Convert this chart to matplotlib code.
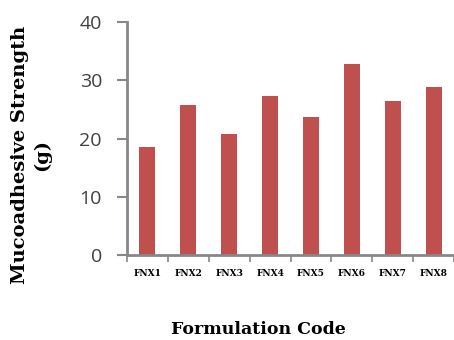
import matplotlib
matplotlib.use("Agg")
import matplotlib.pyplot as plt
import numpy as np

categories = ["FNX1", "FNX2", "FNX3", "FNX4", "FNX5", "FNX6", "FNX7", "FNX8"]
values = [18.5, 25.7, 20.8, 27.3, 23.7, 32.8, 26.4, 28.8]
yticks = [0, 10, 20, 30, 40]

fig = plt.figure(figsize=(4.54, 3.40), dpi=100)
ax = fig.add_axes([127/454, 85/340, 327/454, 233/340])

x = np.arange(len(categories))
ax.bar(x, values, width=0.39, color="#C0504D", zorder=2)

ax.set_xlim(-0.5, len(categories) - 0.5)
ax.set_ylim(0, 40)

gray = "#878787"
for s in ["top", "right"]:
    ax.spines[s].set_visible(False)
for s in ["left", "bottom"]:
    ax.spines[s].set_color(gray)
    ax.spines[s].set_linewidth(2)

ax.set_yticks(yticks)
ax.set_yticklabels([str(v) for v in yticks], fontsize=14, family="Open Sans", color="#404040")
ax.tick_params(axis="y", length=7, width=1.5, color=gray, pad=11)

ax.set_xticks(x)
ax.set_xticklabels(categories, fontsize=6.5, family="DejaVu Serif", fontweight="bold")
ax.tick_params(axis="x", which="major", length=0, pad=10)
ax.set_xticks(np.arange(-0.5, len(categories)), minor=True)
ax.tick_params(axis="x", which="minor", length=5, width=1.2, color=gray)

fig.text(0.068, 0.545, "Mucoadhesive Strength\n(g)", rotation=90, ha="center", va="center",
         fontsize=14, family="DejaVu Serif", fontweight="bold", linespacing=1.25)
fig.text(258/454, 1 - 330/340, "Formulation Code", ha="center", va="center",
         fontsize=12.5, family="DejaVu Serif", fontweight="bold")

fig.savefig("out.png", dpi=100)
